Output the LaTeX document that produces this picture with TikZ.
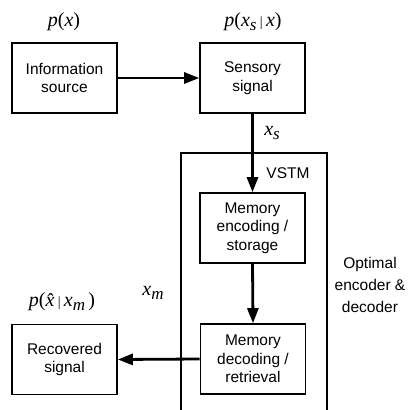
\documentclass[tikz,border=0pt]{standalone}
\usepackage{fontspec}
\setmainfont{Liberation Sans}
\newfontfamily\serifit{Liberation Serif}[ItalicFont={Liberation Serif Italic}]
\usetikzlibrary{arrows.meta}
\newcommand{\mi}[1]{{\serifit\itshape #1}}
\newcommand{\msub}[1]{\raisebox{-0.45ex}{\fontsize{17}{17}\selectfont\serifit\itshape #1}}
\tikzset{
  blockbox/.style={draw, line width=1.6pt, minimum width=105pt, minimum height=70pt, inner sep=0pt, align=center, font=\fontsize{15.5}{18.5}\selectfont},
  flow/.style={line width=2.8pt, -{Triangle[length=15pt,width=11pt]}},
  mathlabel/.style={font=\fontsize{20}{22}\selectfont\serifit, inner sep=0pt},
  textlabel/.style={font=\fontsize{15.5}{22}\selectfont, inner sep=0pt, align=center}
}
\begin{document}
\begin{tikzpicture}[x=1pt,y=-1pt]
\useasboundingbox (0,0) rectangle (410,410);
\draw[line width=1.6pt] (181,420) -- (181,153) -- (327,153) -- (327,420);
\node[blockbox] (info) at (64.5,78) {Information\\source};
\node[blockbox] (sens) at (252.5,78) {Sensory\\signal};
\node[blockbox] (enc) at (252.5,228) {Memory\\encoding /\\storage};
\node[blockbox] (dec) at (253,359) {Memory\\decoding /\\retrieval};
\node[blockbox] (rec) at (64.5,359.5) {Recovered\\signal};
\node[mathlabel] (px) at (64,22) {\mi{p}(\mi{x})};
\node[mathlabel] (pxs) at (253,22) {\mi{p}(\mi{x}\msub{s}\,{\fontsize{14}{14}\selectfont |}\,\mi{x})};
\node[mathlabel] (xs) at (272,133) {\mi{x}\msub{s}};
\node[textlabel] (vstm) at (288,173) {VSTM};
\node[mathlabel] (pxh) at (62,302) {\mi{p}(\mi{\^x}\,{\fontsize{14}{14}\selectfont |}\,\mi{x}\msub{m}\,)};
\node[mathlabel] (xm) at (153,293) {\mi{x}\msub{m}};
\node[textlabel] (opt) at (370,285) {Optimal\\encoder \&\\decoder};
\draw[flow] (info.east) -- (sens.west);
\draw[flow] (sens.south) -- (enc.north);
\draw[flow] (enc.south) -- (dec.north);
\draw[flow] (dec.west) -- (rec.east);
\end{tikzpicture}
\end{document}
